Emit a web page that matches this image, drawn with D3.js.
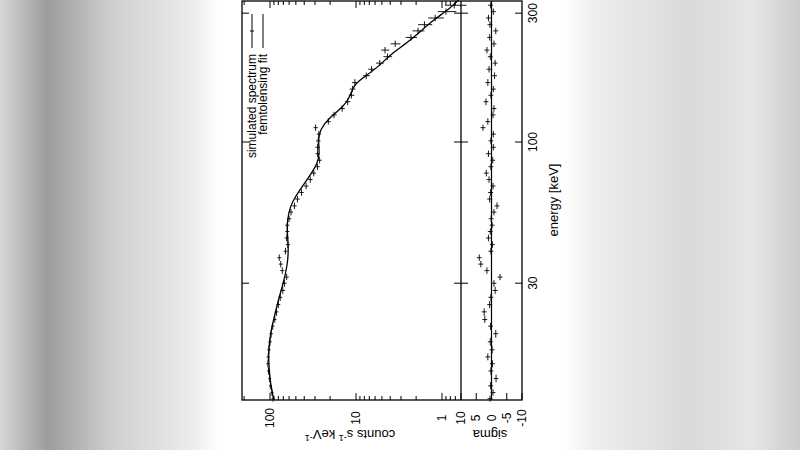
<!DOCTYPE html>
<html>
  <head>
    <meta charset="utf-8" />
    <title>Femtolensing spectrum</title>
    <script src="https://d3js.org/d3.v7.min.js"></script>
    <style>
      body { margin: 0; }
      svg { display: block; font-family: "Liberation Sans", Arial, sans-serif; }
    </style>
  </head>
  <body>
    <svg width="800" height="450" id="chart"></svg>
    <script>
      // simulated spectrum: energy (keV), counts s^-1 keV^-1, error, residual (sigma)
      const energy = [11.2, 11.8, 12.5, 13.3, 14.2, 15.1, 16.0, 17.0, 18.2, 19.5, 20.8, 22.0, 23.5, 25.0, 26.6,
        28.2, 30.0, 31.6, 33.4, 35.3, 37.3, 39.4, 41.7, 44.1, 46.6, 49.2, 52, 55, 58, 61.5, 65, 68.7, 72.6,
        76.7, 81, 85.6, 90.5, 95.6, 101, 107, 113, 119, 126, 133, 141, 149, 157, 166, 176, 186, 196, 207,
        219, 231, 244, 258, 272, 288, 304, 321];
      const counts = [92, 95, 99, 101, 104, 106, 105, 103, 100, 97, 93, 88, 84, 80, 76,
        71, 68, 64, 72, 75, 78, 66, 62, 64, 63, 63, 60, 57, 52, 48, 43, 38, 34,
        31, 28, 26.5, 28, 28, 27.5, 27, 29.5, 21, 18, 14.5, 12.5, 11.3, 11, 10.3, 7.6, 6.6, 5.3, 4.3,
        4.6, 3.5, 2.3, 1.9, 1.6, 1.2, 0.9, 0.72];
      const countErr = [4, 4, 4, 4, 4.5, 4.5, 4.5, 4.5, 4.5, 4.5, 4, 4, 4, 4, 4,
        4, 4, 3.5, 4, 4, 4, 3.5, 3.5, 3.5, 3.5, 3.5, 3.5, 3, 3, 3, 2.5, 2.2, 2,
        1.8, 1.6, 1.5, 1.6, 1.6, 1.6, 1.6, 1.7, 1.3, 1.2, 1.0, 0.9, 0.85, 0.85, 0.8, 0.7, 0.6, 0.55, 0.5,
        0.5, 0.45, 0.35, 0.3, 0.3, 0.25, 0.22, 0.2];
      const sigma = [0.5, -0.5, 0.3, -1.5, 0.2, -0.3, 1.2, -0.2, 0.4, -1.4, 0.3, 2.2, 2.4, 0.6, 0.2,
        -1.2, -0.8, -2.8, 1.5, 3.5, 4.0, 0.2, -0.3, 1.0, 0.4, -0.2, 0.1, -0.8, -1.8, 0.6, 0.3, -0.5, 0.8,
        1.7, 0.2, -0.4, 1.0, -0.6, 0.2, -0.6, 2.8, 1.2, -0.5, -0.8, 1.8, 0.2, -0.6, 1.2, -1.0, 0.8, -1.2, 0.4,
        1.5, -0.8, 0.6, -1.4, 0.5, 1.0, -0.6, 0.3];

      // femtolensing fit model
      const fitEnergy = [11.1, 11.4, 12.8, 14.7, 16.5, 17.9, 20.1, 21.9, 26.0, 30.0, 35.6, 40.9, 45.9, 51.4, 57.5,
        62.7, 69.3, 76.6, 83.4, 90.8, 101.7, 110.8, 124, 135, 147, 163, 175, 190, 213, 232, 256, 283, 312, 336];
      const fitCounts = [90, 92, 99, 103, 104, 102, 97, 91, 80, 70, 62, 61, 63, 63, 58.5,
        51, 41, 33, 28, 26.5, 27.5, 26.5, 20, 14, 11.7, 10.7, 7.85, 5.5, 3.85, 2.58, 1.8, 1.26, 0.81, 0.64];

      const countTicks = [100, 10, 1];
      const energyTicks = [30, 100, 300];
      const sigmaTicks = [10, 5, 0, -5, -10];

      const svg = d3.select("#chart");

      // blurred scan background
      const grad = svg.append("defs").append("linearGradient").attr("id", "bg");
      [[0, "#d6d6d6"], [0.06, "#9c9c9c"], [0.14, "#cfcfcf"], [0.24, "#ececec"], [0.27, "#fdfdfd"],
       [0.71, "#fdfdfd"], [0.74, "#efefef"], [0.86, "#d9d9d9"], [0.94, "#e6e6e6"], [1, "#cccccc"]]
        .forEach(s => grad.append("stop").attr("offset", s[0]).attr("stop-color", s[1]));
      svg.append("rect").attr("width", 800).attr("height", 450).attr("fill", "url(#bg)");
      svg.append("rect").attr("x", 222).attr("width", 340).attr("height", 450).attr("fill", "#fff");

      // the plot is rotated: energy runs upward, counts run leftward
      const y = d3.scaleLog().domain([11.08, 335.7]).range([400, 0]);
      const x = d3.scaleLog().domain([100, 1]).range([270, 442]);
      const xr = d3.scaleLinear().domain([10, -10]).range([461, 522]);
      const pLeft = 242, pMid = 461, pRight = 522, pTop = 1, pBottom = 400;

      const g = svg.append("g").attr("stroke", "#000").attr("fill", "none");

      // minor/major count ticks on both energy edges
      const minor = [];
      [0.1, 1, 10, 100].forEach(d => { for (let k = 1; k < 10; k++) minor.push(d * k); });
      minor.filter(v => x(v) > pLeft && x(v) < pMid).forEach(v => {
        const len = countTicks.includes(v) ? 7 : 4;
        g.append("line").attr("x1", x(v)).attr("x2", x(v)).attr("y1", pBottom).attr("y2", pBottom - len);
        g.append("line").attr("x1", x(v)).attr("x2", x(v)).attr("y1", pTop).attr("y2", pTop + len);
      });
      sigmaTicks.forEach(v => {
        g.append("line").attr("x1", xr(v)).attr("x2", xr(v)).attr("y1", pBottom).attr("y2", pBottom - 7);
      });
      energyTicks.forEach(v => {
        [[pLeft, 7], [pMid, -7], [pMid, 7], [pRight, -7]].forEach(t =>
          g.append("line").attr("x1", t[0]).attr("x2", t[0] + t[1]).attr("y1", y(v)).attr("y2", y(v)));
      });

      // zero line of residuals
      g.append("line").attr("x1", xr(0)).attr("x2", xr(0)).attr("y1", pTop).attr("y2", pBottom).attr("stroke-width", 1.2);

      // fit curve
      const fitData = fitEnergy.map((e, i) => [e, fitCounts[i]]);
      g.append("path").datum(fitData).attr("stroke-width", 1.3)
        .attr("d", d3.line().x(d => x(d[1])).y(d => y(d[0])).curve(d3.curveBasis));

      // data points with error bars
      const half = energy.map((e, i) => {
        const lo = i > 0 ? Math.sqrt(e * energy[i - 1]) : e * 0.975;
        const hi = i < energy.length - 1 ? Math.sqrt(e * energy[i + 1]) : e * 1.025;
        return [lo, hi];
      });
      energy.forEach((e, i) => {
        const c = counts[i];
        g.append("line").attr("x1", x(c)).attr("x2", x(c)).attr("y1", y(half[i][0])).attr("y2", y(half[i][1])).attr("stroke-width", 0.9);
        g.append("line").attr("x1", x(c + countErr[i])).attr("x2", x(Math.max(c - countErr[i], 0.5))).attr("y1", y(e)).attr("y2", y(e)).attr("stroke-width", 0.9);
        const s = sigma[i];
        g.append("line").attr("x1", xr(s)).attr("x2", xr(s)).attr("y1", y(half[i][0])).attr("y2", y(half[i][1])).attr("stroke-width", 0.9);
        g.append("line").attr("x1", xr(s + 0.8)).attr("x2", xr(s - 0.8)).attr("y1", y(e)).attr("y2", y(e)).attr("stroke-width", 0.9);
      });

      // frames
      g.append("rect").attr("x", pLeft).attr("y", pTop).attr("width", pRight - pLeft).attr("height", pBottom - pTop).attr("stroke-width", 1.3);
      g.append("line").attr("x1", pMid).attr("x2", pMid).attr("y1", pTop).attr("y2", pBottom).attr("stroke-width", 1.3);

      // legend
      [["simulated spectrum", 252], ["femtolensing fit", 263]].forEach((l, i) => {
        g.append("line").attr("x1", l[1]).attr("x2", l[1]).attr("y1", 14).attr("y2", 48);
        if (i === 0) g.append("line").attr("x1", l[1] - 2).attr("x2", l[1] + 2).attr("y1", 31).attr("y2", 31);
        svg.append("text").attr("transform", `translate(${l[1]},54) rotate(-90)`)
          .attr("text-anchor", "end").attr("dy", "0.35em").attr("font-size", 12).text(l[0]);
      });

      // tick labels
      const lab = (tx, ty, rot, t, size) => svg.append("text")
        .attr("transform", `translate(${tx},${ty}) rotate(${rot})`)
        .attr("text-anchor", "middle").attr("dy", "0.35em").attr("font-size", size).text(t);
      countTicks.forEach(v => lab(x(v), 418, -90, v, 12));
      sigmaTicks.forEach(v => lab(xr(v), 418, -90, v, 12));
      energyTicks.forEach(v => lab(533, y(v), -90, v, 12));
      lab(553, 200, -90, "energy [keV]", 13);
      lab(490, 435, 180, "sigma", 13);
      svg.append("text").attr("transform", "translate(350,435) rotate(180)")
        .attr("text-anchor", "middle").attr("dy", "0.35em").attr("font-size", 13)
        .html('counts s<tspan dy="-5" font-size="9">-1</tspan><tspan dy="5"> keV</tspan><tspan dy="-5" font-size="9">-1</tspan>');
    </script>
  </body>
</html>
